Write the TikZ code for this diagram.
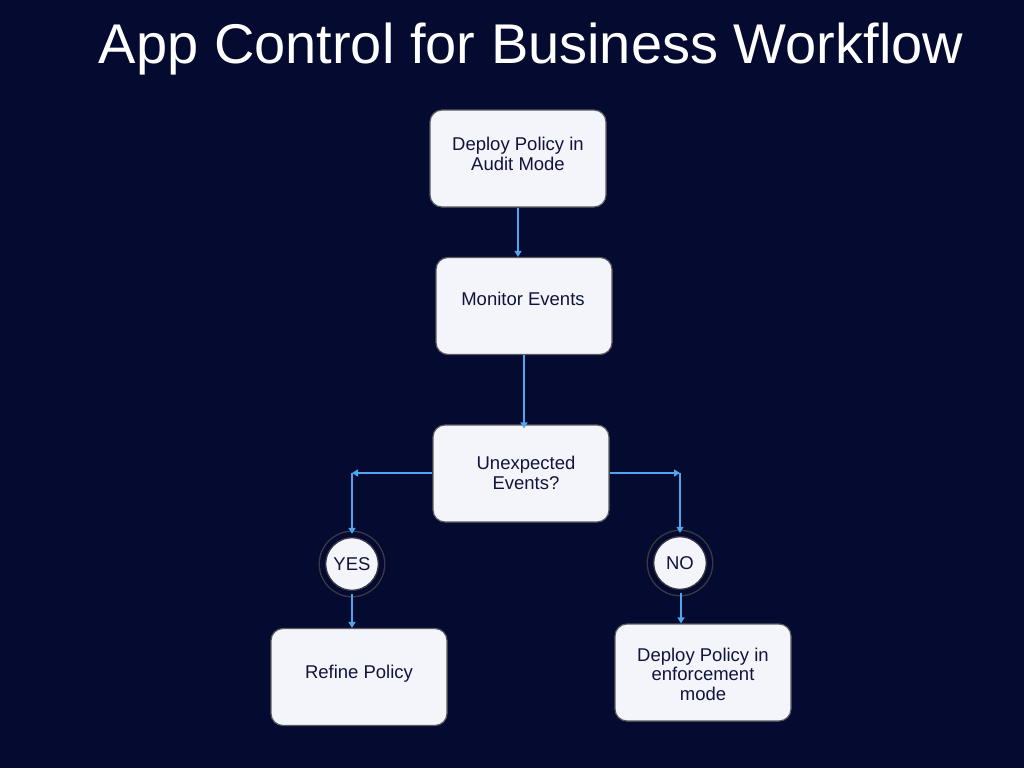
\documentclass[tikz,border=0pt]{standalone}
\usepackage{fontspec}
\setmainfont{Liberation Sans}
\usetikzlibrary{arrows.meta}
\definecolor{bg}{HTML}{050B30}
\definecolor{boxfill}{HTML}{F4F5FB}
\definecolor{boxline}{HTML}{5A5A5E}
\definecolor{txt}{HTML}{10143A}
\definecolor{arrowc}{HTML}{4DA6EE}
\definecolor{ring}{HTML}{3A3A40}
\begin{document}
\begin{tikzpicture}[x=1pt,y=-1pt,
  box/.style={draw=boxline,line width=1.2pt,fill=boxfill,rounded corners=12pt,minimum width=176pt,minimum height=97pt,inner sep=0pt},
  lbl/.style={text=txt,font=\fontsize{18.5}{19.5}\selectfont,align=center,inner sep=0pt},
  circ/.style={circle,draw=ring,line width=1.4pt,fill=boxfill,minimum size=59pt,inner sep=0pt,double=bg,double distance=5pt,text=txt,font=\fontsize{18.5}{20}\selectfont},
  arr/.style={draw=arrowc,line width=1.4pt,-{Triangle[length=6pt,width=7pt]}}]
\fill[bg] (0,0) rectangle (1024,768);
\useasboundingbox (0,0) rectangle (1024,768);
\node[text=white,font=\fontsize{56}{64}\selectfont,anchor=center] (title) at (531,49) {App Control for Business Workflow};
\node[box] (b1) at (518,158.5) {};
\node[lbl] (t1) at (518,154) {Deploy Policy in\\Audit Mode};
\node[box] (b2) at (524,306) {};
\node[lbl] (t2) at (523,299) {Monitor Events};
\node[box] (b3) at (521,473.5) {};
\node[lbl] (t3) at (526,473) {Unexpected\\Events?};
\node[circ] (yes) at (352,564) {YES};
\node[circ] (no) at (680,563) {NO};
\node[box] (b4) at (359,677) {};
\node[lbl] (t4) at (359,674) {Refine Policy};
\node[box] (b5) at (703,672.5) {};
\node[lbl] (t5) at (703,674) {Deploy Policy in\\enforcement\\mode};
\coordinate (cL) at (352,473);
\coordinate (cR) at (680,473);
\draw[arr] (b1.south) -- (b1.south |- b2.north);
\draw[arr] (b2.south) -- ([yshift=-4pt]b2.south |- b3.north);
\draw[arr] (b3.west |- cL) -- (cL);
\draw[arr] (cL) -- (yes.north);
\draw[arr] (b3.east |- cR) -- (cR);
\draw[arr] (cR) -- (no.north);
\draw[arr] (yes.south) -- (yes.south |- b4.north);
\draw[arr] ([xshift=1pt]no.south) -- ([xshift=1pt]no.south |- b5.north);
\end{tikzpicture}
\end{document}
